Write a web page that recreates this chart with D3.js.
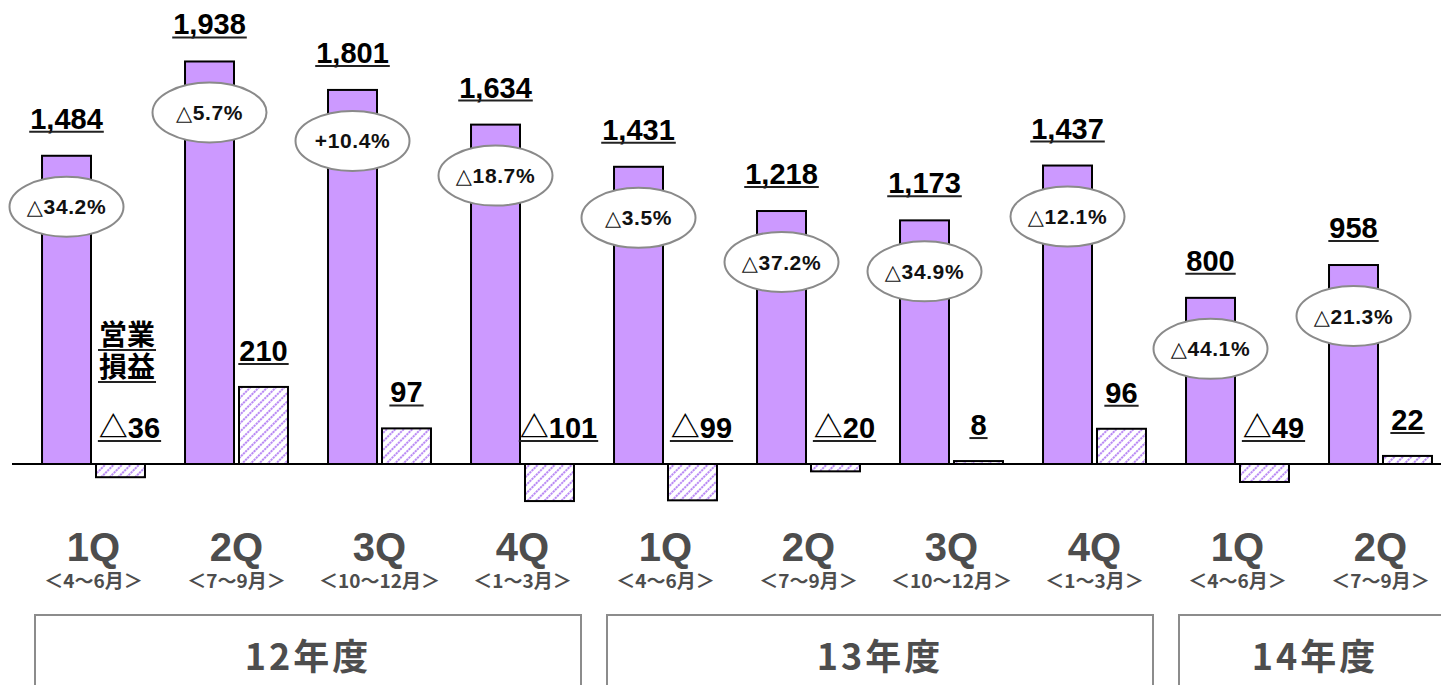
<!DOCTYPE html>
<html>
<head>
<meta charset="utf-8">
<script src="https://cdn.jsdelivr.net/npm/d3@7"></script>
<style>
  html, body { margin: 0; padding: 0; background: #ffffff; }
  svg { display: block; }
</style>
</head>
<body>
<svg id="chart" width="1441" height="685"></svg>
<script>
// Quarterly net sales and operating income (units: 百万円)
const quarters = ["1Q", "2Q", "3Q", "4Q", "1Q", "2Q", "3Q", "4Q", "1Q", "2Q"];
const months = ["＜4～6月＞", "＜7～9月＞", "＜10～12月＞", "＜1～3月＞",
                "＜4～6月＞", "＜7～9月＞", "＜10～12月＞", "＜1～3月＞",
                "＜4～6月＞", "＜7～9月＞"];
const fiscalYears = ["12年度", "13年度", "14年度"];
const fiscalYearOfQuarter = [0, 0, 0, 0, 1, 1, 1, 1, 2, 2];

const sales = [1484, 1938, 1801, 1634, 1431, 1218, 1173, 1437, 800, 958];
const operatingIncome = [-36, 210, 97, -101, -99, -20, 8, 96, -49, 22];
// Year-over-year change of sales, in percent
const salesChange = [-34.2, -5.7, 10.4, -18.7, -3.5, -37.2, -34.9, -12.1, -44.1, -21.3];

const W = 1441, H = 685;
const svg = d3.select("#chart");

const LATIN = "'Liberation Sans', Arial, 'Noto Sans CJK JP', sans-serif";
const BUBBLE = "'Liberation Sans', Arial, 'DejaVu Sans', sans-serif";
const CJK = "'Noto Sans CJK JP', 'Noto Sans CJK SC', sans-serif";
const GREY = "#4d4d4d";

// Scales
const idx = d3.range(quarters.length);
const x = d3.scaleBand().domain(idx).range([22, 1452]).paddingInner(0.28).paddingOuter(0.14);
const xs = d3.scaleBand().domain(["sales", "op"]).range([0, x.bandwidth()]).paddingInner(0.0926);
const ySales = d3.scaleLinear().domain([0, 2000]).range([464, 48.6]);
const yOp = d3.scaleLinear().domain([0, 100]).range([464, 427.3]);
const zeroY = ySales(0);

const fmtSales = d3.format(",");
const fmtOp = v => v < 0 ? "△" + Math.abs(v) : String(v);
const fmtChange = v => (v < 0 ? "△" : "+") + Math.abs(v).toFixed(1) + "%";

// Diagonal hatch for operating income bars
const defs = svg.append("defs");
const pat = defs.append("pattern")
  .attr("id", "hatch")
  .attr("patternUnits", "userSpaceOnUse")
  .attr("width", 6).attr("height", 6)
  .attr("patternTransform", "rotate(45)");
pat.append("rect").attr("width", 6).attr("height", 6).attr("fill", "#ffffff");
pat.append("line")
  .attr("x1", 1).attr("y1", 0).attr("x2", 1).attr("y2", 6)
  .attr("stroke", "#b98af4").attr("stroke-width", 2)
  .attr("stroke-dasharray", "2.2 0.8");

// Zero line
svg.append("line")
  .attr("x1", 12).attr("x2", W)
  .attr("y1", zeroY).attr("y2", zeroY)
  .attr("stroke", "#000").attr("stroke-width", 2);

// Helper: underline a text element
function underline(sel, dy, color) {
  sel.each(function () {
    const b = this.getBBox();
    const baseY = +d3.select(this).attr("y");
    d3.select(this.parentNode).append("line")
      .attr("x1", b.x - 1).attr("x2", b.x + b.width + 1)
      .attr("y1", baseY + dy).attr("y2", baseY + dy)
      .attr("stroke", color).attr("stroke-width", 2);
  });
}

// Sales bars
const gSales = svg.append("g");
gSales.selectAll("rect").data(idx).join("rect")
  .attr("x", i => x(i) + xs("sales"))
  .attr("width", xs.bandwidth())
  .attr("y", i => ySales(sales[i]))
  .attr("height", i => zeroY - ySales(sales[i]))
  .attr("fill", "#cc99ff")
  .attr("stroke", "#000").attr("stroke-width", 2);

// Operating income bars
const gOp = svg.append("g");
gOp.selectAll("rect").data(idx).join("rect")
  .attr("x", i => x(i) + xs("op"))
  .attr("width", xs.bandwidth())
  .attr("y", i => Math.min(yOp(operatingIncome[i]), yOp(0)))
  .attr("height", i => Math.abs(yOp(operatingIncome[i]) - yOp(0)))
  .attr("fill", "url(#hatch)")
  .attr("stroke", "#000").attr("stroke-width", 2);

// Sales value labels
const gSalesLab = svg.append("g");
gSalesLab.selectAll("text").data(idx).join("text")
  .attr("x", i => x(i) + xs("sales") + xs.bandwidth() / 2)
  .attr("y", i => ySales(sales[i]) - 27)
  .attr("text-anchor", "middle")
  .attr("font-family", LATIN).attr("font-weight", "bold")
  .attr("font-size", 29).attr("fill", "#000")
  .text(i => fmtSales(sales[i]))
  .call(underline, 3, "#222");

// Operating income value labels
const gOpLab = svg.append("g");
gOpLab.selectAll("text").data(idx).join("text")
  .attr("x", i => x(i) + xs("op") + xs.bandwidth() / 2 + (operatingIncome[i] < 0 ? 9 : 0))
  .attr("y", i => Math.min(yOp(operatingIncome[i]), yOp(0)) - 26)
  .attr("text-anchor", "middle")
  .attr("font-family", LATIN).attr("font-weight", "bold")
  .attr("font-size", 29).attr("fill", "#000")
  .text(i => fmtOp(operatingIncome[i]))
  .call(underline, 3, "#222");

// Series caption next to the first operating income bar (two lines, each underlined)
const capX = x(0) + xs("op") + 3;
const capY = zeroY - 119;
const gCap = svg.append("g");
const cap = gCap.append("text")
  .attr("x", capX).attr("y", capY)
  .attr("font-family", CJK).attr("font-weight", "bold")
  .attr("font-size", 28).attr("fill", "#000");
["営業", "損益"].forEach((s, k) => {
  cap.append("tspan").attr("x", capX).attr("y", capY + k * 32).text(s);
});
cap.selectAll("tspan").each(function (d, k) {
  const w = this.getComputedTextLength();
  gCap.append("line")
    .attr("x1", capX - 1).attr("x2", capX + w + 1)
    .attr("y1", capY + k * 32 + 5).attr("y2", capY + k * 32 + 5)
    .attr("stroke", "#222").attr("stroke-width", 2);
});

// Year-over-year change bubbles
const gChg = svg.append("g");
const bubble = gChg.selectAll("g").data(idx).join("g")
  .attr("transform", i => `translate(${x(i) + xs("sales") + xs.bandwidth() / 2},${ySales(sales[i]) + 51})`);
bubble.append("ellipse")
  .attr("rx", 57).attr("ry", 30)
  .attr("fill", "#ffffff")
  .attr("stroke", "#8a8a8a").attr("stroke-width", 2);
bubble.append("text")
  .attr("y", 7.5)
  .attr("text-anchor", "middle")
  .attr("font-family", BUBBLE).attr("font-weight", "bold")
  .attr("font-size", 21).attr("letter-spacing", 0.6).attr("fill", "#111")
  .text(i => fmtChange(salesChange[i]));

// Quarter labels
const gX = svg.append("g");
gX.selectAll("text.q").data(idx).join("text").attr("class", "q")
  .attr("x", i => x(i) + x.bandwidth() / 2)
  .attr("y", 561)
  .attr("text-anchor", "middle")
  .attr("font-family", LATIN).attr("font-weight", "bold")
  .attr("font-size", 40).attr("fill", GREY)
  .text(i => quarters[i]);
gX.selectAll("text.m").data(idx).join("text").attr("class", "m")
  .attr("x", i => x(i) + x.bandwidth() / 2)
  .attr("y", 588)
  .attr("text-anchor", "middle")
  .attr("font-family", CJK).attr("font-weight", "bold")
  .attr("font-size", 19).attr("fill", GREY)
  .text(i => months[i]);

// Fiscal year boxes
const gapHalf = (x.step() - x.bandwidth()) / 2;
const gYear = svg.append("g");
fiscalYears.forEach((label, f) => {
  const members = idx.filter(i => fiscalYearOfQuarter[i] === f);
  const first = members[0], last = members[members.length - 1];
  const x0 = x(first) - gapHalf + 13;
  const x1 = f === fiscalYears.length - 1 ? W + 10 : x(last) + x.bandwidth() + gapHalf - 13;
  gYear.append("rect")
    .attr("x", x0).attr("y", 615)
    .attr("width", x1 - x0).attr("height", 120)
    .attr("fill", "none")
    .attr("stroke", "#8c8c8c").attr("stroke-width", 2);
  gYear.append("text")
    .attr("x", (x0 + x1) / 2)
    .attr("y", 670)
    .attr("text-anchor", "middle")
    .attr("font-family", CJK).attr("font-weight", "bold")
    .attr("font-size", 36).attr("letter-spacing", 3).attr("fill", GREY)
    .text(label);
});
</script>
</body>
</html>
